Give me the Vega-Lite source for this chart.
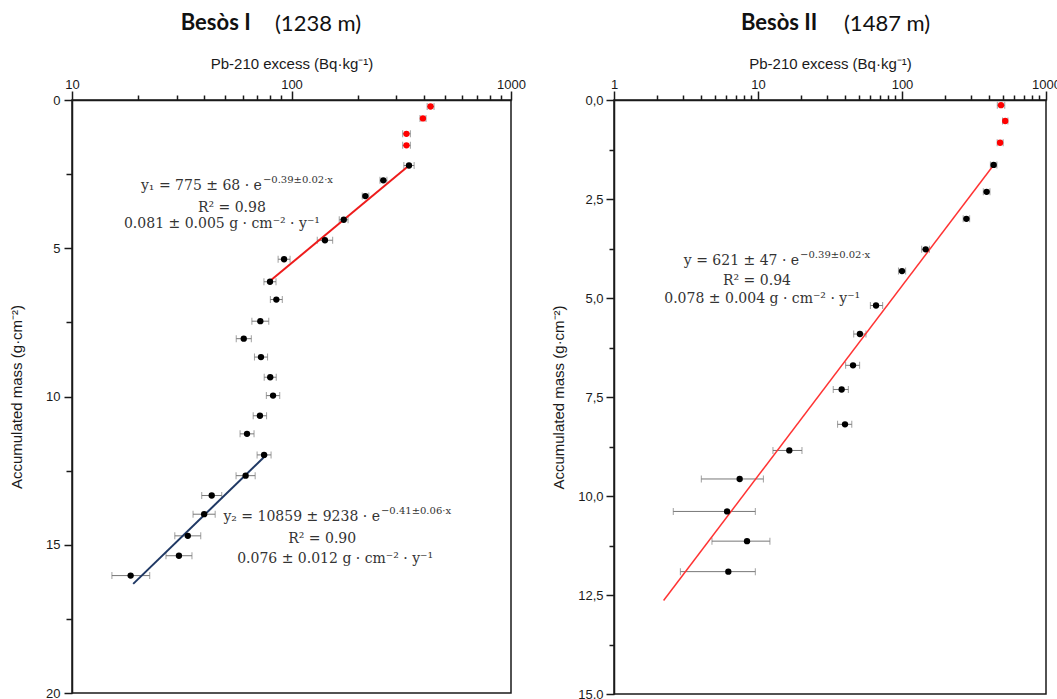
{
  "$schema": "https://vega.github.io/schema/vega-lite/v6.json",
  "padding": {"left": 8, "top": 12, "right": 0, "bottom": 0},
  "background": "white",
  "spacing": 23,
  "resolve": {"scale": {"x": "independent", "y": "independent"}, "axis": {"x": "independent", "y": "independent"}},
  "config": {
    "view": {"stroke": "#1a1a1a", "strokeWidth": 1.5},
    "axis": {"grid": false, "domainColor": "#1a1a1a", "domainWidth": 1.5, "tickColor": "#1a1a1a", "tickWidth": 1.5, "labelFont": "Liberation Sans", "labelFontSize": 13, "labelColor": "#1a1a1a", "titleFont": "Liberation Sans", "titleFontSize": 15, "titleFontWeight": "normal", "titleColor": "#1a1a1a"},
    "title": {"font": "Lato", "fontSize": 22, "fontWeight": "bold", "color": "#111111", "anchor": "start", "offset": 20}
  },
  "datasets": {
    "leftPts": [
      {"v": 430, "lo": 415, "hi": 446, "m": 0.22, "c": "surf"},
      {"v": 397, "lo": 385, "hi": 410, "m": 0.62, "c": "surf"},
      {"v": 334, "lo": 321, "hi": 348, "m": 1.14, "c": "surf"},
      {"v": 334, "lo": 321, "hi": 348, "m": 1.53, "c": "surf"},
      {"v": 343, "lo": 325, "hi": 362, "m": 2.21, "c": "deep"},
      {"v": 262, "lo": 253, "hi": 272, "m": 2.71, "c": "deep"},
      {"v": 217, "lo": 210, "hi": 225, "m": 3.24, "c": "deep"},
      {"v": 173, "lo": 165, "hi": 181, "m": 4.04, "c": "deep"},
      {"v": 142, "lo": 131, "hi": 154, "m": 4.73, "c": "deep"},
      {"v": 92.5, "lo": 86.9, "hi": 98.5, "m": 5.37, "c": "deep"},
      {"v": 79.8, "lo": 74.9, "hi": 85.0, "m": 6.13, "c": "deep"},
      {"v": 85.3, "lo": 80.1, "hi": 90.8, "m": 6.73, "c": "deep"},
      {"v": 72.1, "lo": 66.0, "hi": 78.8, "m": 7.46, "c": "deep"},
      {"v": 60.6, "lo": 56.0, "hi": 65.6, "m": 8.05, "c": "deep"},
      {"v": 72.6, "lo": 67.8, "hi": 77.8, "m": 8.67, "c": "deep"},
      {"v": 80.0, "lo": 75.1, "hi": 85.2, "m": 9.35, "c": "deep"},
      {"v": 82.4, "lo": 76.8, "hi": 88.4, "m": 9.97, "c": "deep"},
      {"v": 71.8, "lo": 66.9, "hi": 77.0, "m": 10.65, "c": "deep"},
      {"v": 62.7, "lo": 58.3, "hi": 67.5, "m": 11.26, "c": "deep"},
      {"v": 75.0, "lo": 69.7, "hi": 80.7, "m": 11.97, "c": "deep"},
      {"v": 61.8, "lo": 55.9, "hi": 68.3, "m": 12.67, "c": "deep"},
      {"v": 43.3, "lo": 39.0, "hi": 48.1, "m": 13.34, "c": "deep"},
      {"v": 40.0, "lo": 35.6, "hi": 44.9, "m": 13.97, "c": "deep"},
      {"v": 33.7, "lo": 29.4, "hi": 38.6, "m": 14.70, "c": "deep"},
      {"v": 30.7, "lo": 26.8, "hi": 35.2, "m": 15.37, "c": "deep"},
      {"v": 18.5, "lo": 15.2, "hi": 22.6, "m": 16.04, "c": "deep"}
    ],
    "leftLines": [
      {"v": 343, "m": 2.21, "c": "fit1"},
      {"v": 78.5, "m": 6.15, "c": "fit1"},
      {"v": 77.3, "m": 11.95, "c": "fit2"},
      {"v": 19.0, "m": 16.32, "c": "fit2"}
    ],
    "leftText": [
      {"txt": "y₁ = 775 ± 68 · e", "v": 73.3, "m": 2.9, "kind": "base"},
      {"txt": "−0.39±0.02·x", "v": 73.3, "m": 2.9, "kind": "sup"},
      {"txt": "R² = 0.98", "v": 53.5, "m": 3.65, "kind": "line"},
      {"txt": "0.081 ± 0.005 g · cm⁻² · y⁻¹", "v": 48.2, "m": 4.18, "kind": "line"},
      {"txt": "y₂ = 10859 ± 9238 · e", "v": 253, "m": 14.05, "kind": "base"},
      {"txt": "−0.41±0.06·x", "v": 253, "m": 14.05, "kind": "sup"},
      {"txt": "R² = 0.90", "v": 138, "m": 14.8, "kind": "line"},
      {"txt": "0.076 ± 0.012 g · cm⁻² · y⁻¹", "v": 158, "m": 15.47, "kind": "line"}
    ],
    "rightPts": [
      {"v": 487, "lo": 459, "hi": 517, "m": 0.13, "c": "surf"},
      {"v": 521, "lo": 499, "hi": 544, "m": 0.53, "c": "surf"},
      {"v": 480, "lo": 458, "hi": 504, "m": 1.08, "c": "surf"},
      {"v": 433, "lo": 411, "hi": 456, "m": 1.64, "c": "deep"},
      {"v": 387, "lo": 367, "hi": 408, "m": 2.32, "c": "deep"},
      {"v": 280, "lo": 266, "hi": 295, "m": 3.0, "c": "deep"},
      {"v": 146, "lo": 137, "hi": 155, "m": 3.77, "c": "deep"},
      {"v": 100, "lo": 94.5, "hi": 106, "m": 4.32, "c": "deep"},
      {"v": 66, "lo": 60.3, "hi": 73.4, "m": 5.19, "c": "deep"},
      {"v": 51, "lo": 46.2, "hi": 56.2, "m": 5.91, "c": "deep"},
      {"v": 45.7, "lo": 40.6, "hi": 50.8, "m": 6.70, "c": "deep"},
      {"v": 38.1, "lo": 33.3, "hi": 42.4, "m": 7.31, "c": "deep"},
      {"v": 40.2, "lo": 35.7, "hi": 44.8, "m": 8.19, "c": "deep"},
      {"v": 16.5, "lo": 12.7, "hi": 20.2, "m": 8.85, "c": "deep"},
      {"v": 7.46, "lo": 4.04, "hi": 10.9, "m": 9.57, "c": "deep"},
      {"v": 6.1, "lo": 2.58, "hi": 9.58, "m": 10.39, "c": "deep"},
      {"v": 8.39, "lo": 4.79, "hi": 12.1, "m": 11.14, "c": "deep"},
      {"v": 6.22, "lo": 2.89, "hi": 9.58, "m": 11.91, "c": "deep"}
    ],
    "rightLines": [
      {"v": 433, "m": 1.64, "c": "fit3"},
      {"v": 2.21, "m": 12.64, "c": "fit3"}
    ],
    "rightText": [
      {"txt": "y = 621 ± 47 · e", "v": 19.3, "m": 4.06, "kind": "base"},
      {"txt": "−0.39±0.02·x", "v": 19.3, "m": 4.06, "kind": "sup"},
      {"txt": "R² = 0.94", "v": 9.84, "m": 4.57, "kind": "line"},
      {"txt": "0.078 ± 0.004 g · cm⁻² · y⁻¹", "v": 10.7, "m": 5.02, "kind": "line"}
    ]
  },
  "hconcat": [
    {
      "title": {"text": "Besòs I", "frame": "bounds", "dx": 172, "offset": -23},
      "vconcat": [
        {
          "width": 439,
          "height": 593,
          "title": {"text": "(1238 m)", "fontWeight": "normal", "frame": "group", "dx": 203},
          "layer": [
            {
              "data": {"name": "leftPts"},
              "mark": {"type": "errorbar", "ticks": {"size": 7}, "color": "#777777", "thickness": 1},
              "encoding": {
                "x": {"field": "lo", "type": "quantitative", "scale": {"type": "log", "domain": [10, 1000], "nice": false},
                  "axis": {"orient": "top", "title": "Pb-210 excess (Bq·kg⁻¹)", "values": [10,20,30,40,50,60,70,80,90,100,200,300,400,500,600,700,800,900,1000],
                    "labelExpr": "indexof([10,100,1000], datum.value) >= 0 ? format(datum.value, 'd') : ''",
                    "tickSize": {"condition": {"test": "indexof([10,100,1000], datum.value) >= 0", "value": 9}, "value": 5},
                    "labelPadding": 0, "titlePadding": 7, "labelFlush": false}},
                "x2": {"field": "hi"},
                "y": {"field": "m", "type": "quantitative", "scale": {"domain": [0, 20], "reverse": true, "nice": false, "zero": false},
                  "axis": {"title": "Accumulated mass (g·cm⁻²)", "values": [0,2.5,5,7.5,10,12.5,15,17.5,20],
                    "labelExpr": "datum.value % 5 == 0 ? datum.label : ''",
                    "tickSize": {"condition": {"test": "datum.value % 5 == 0", "value": 8}, "value": 6},
                    "labelPadding": 4, "titlePadding": 21}}
              }
            },
            {
              "data": {"name": "leftLines"},
              "mark": {"type": "line", "strokeWidth": 2},
              "encoding": {
                "x": {"field": "v", "type": "quantitative", "scale": {"type": "log", "domain": [10, 1000], "nice": false}},
                "y": {"field": "m", "type": "quantitative", "scale": {"domain": [0, 20], "reverse": true, "nice": false, "zero": false}},
                "color": {"field": "c", "type": "nominal", "scale": {"domain": ["surf","deep","fit1","fit2","fit3"], "range": ["#ff0000","#000000","#ee1c1c","#1f3864","#ff3333"]}, "legend": null}
              }
            },
            {
              "data": {"name": "leftPts"},
              "mark": {"type": "point", "filled": true, "size": 40, "opacity": 1},
              "encoding": {
                "x": {"field": "v", "type": "quantitative", "scale": {"type": "log", "domain": [10, 1000], "nice": false}},
                "y": {"field": "m", "type": "quantitative", "scale": {"domain": [0, 20], "reverse": true, "nice": false, "zero": false}},
                "color": {"field": "c", "type": "nominal", "scale": {"domain": ["surf","deep","fit1","fit2","fit3"], "range": ["#ff0000","#000000","#ee1c1c","#1f3864","#ff3333"]}, "legend": null}
              }
            },
            {
              "data": {"name": "leftText"},
              "transform": [{"filter": "datum.kind == 'base'"}],
              "mark": {"type": "text", "align": "right", "baseline": "middle", "font": "DejaVu Serif", "fontSize": 14, "color": "#333333"},
              "encoding": {
                "x": {"field": "v", "type": "quantitative", "scale": {"type": "log", "domain": [10, 1000], "nice": false}},
                "y": {"field": "m", "type": "quantitative", "scale": {"domain": [0, 20], "reverse": true, "nice": false, "zero": false}},
                "text": {"field": "txt"}
              }
            },
            {
              "data": {"name": "leftText"},
              "transform": [{"filter": "datum.kind == 'sup'"}],
              "mark": {"type": "text", "align": "left", "baseline": "middle", "dx": 1, "dy": -6, "font": "DejaVu Serif", "fontSize": 10, "color": "#333333"},
              "encoding": {
                "x": {"field": "v", "type": "quantitative", "scale": {"type": "log", "domain": [10, 1000], "nice": false}},
                "y": {"field": "m", "type": "quantitative", "scale": {"domain": [0, 20], "reverse": true, "nice": false, "zero": false}},
                "text": {"field": "txt"}
              }
            },
            {
              "data": {"name": "leftText"},
              "transform": [{"filter": "datum.kind == 'line'"}],
              "mark": {"type": "text", "align": "center", "baseline": "middle", "font": "DejaVu Serif", "fontSize": 14, "color": "#333333"},
              "encoding": {
                "x": {"field": "v", "type": "quantitative", "scale": {"type": "log", "domain": [10, 1000], "nice": false}},
                "y": {"field": "m", "type": "quantitative", "scale": {"domain": [0, 20], "reverse": true, "nice": false, "zero": false}},
                "text": {"field": "txt"}
              }
            }
          ]
        }
      ]
    },
    {
      "title": {"text": "Besòs II", "frame": "bounds", "dx": 190, "offset": -23},
      "vconcat": [
        {
          "width": 432,
          "height": 594,
          "title": {"text": "(1487 m)", "fontWeight": "normal", "frame": "group", "dx": 230},
          "layer": [
            {
              "data": {"name": "rightPts"},
              "mark": {"type": "errorbar", "ticks": {"size": 7}, "color": "#777777", "thickness": 1},
              "encoding": {
                "x": {"field": "lo", "type": "quantitative", "scale": {"type": "log", "domain": [1, 1000], "nice": false},
                  "axis": {"orient": "top", "title": "Pb-210 excess (Bq·kg⁻¹)", "values": [1,2,3,4,5,6,7,8,9,10,20,30,40,50,60,70,80,90,100,200,300,400,500,600,700,800,900,1000],
                    "labelExpr": "indexof([1,10,100,1000], datum.value) >= 0 ? format(datum.value, 'd') : ''",
                    "tickSize": {"condition": {"test": "indexof([1,10,100,1000], datum.value) >= 0", "value": 9}, "value": 5},
                    "labelPadding": 0, "titlePadding": 7, "labelFlush": false}},
                "x2": {"field": "hi"},
                "y": {"field": "m", "type": "quantitative", "scale": {"domain": [0, 15], "reverse": true, "nice": false, "zero": false},
                  "axis": {"title": "Accumulated mass (g·cm⁻²)", "values": [0,1.25,2.5,3.75,5,6.25,7.5,8.75,10,11.25,12.5,13.75,15],
                    "labelExpr": "datum.value % 2.5 == 0 ? replace(format(datum.value, '.1f'), '.', ',') : ''",
                    "tickSize": {"condition": {"test": "datum.value % 2.5 == 0", "value": 8}, "value": 5},
                    "labelPadding": 3, "titlePadding": 11}}
              }
            },
            {
              "data": {"name": "rightLines"},
              "mark": {"type": "line", "strokeWidth": 1.5},
              "encoding": {
                "x": {"field": "v", "type": "quantitative", "scale": {"type": "log", "domain": [1, 1000], "nice": false}},
                "y": {"field": "m", "type": "quantitative", "scale": {"domain": [0, 15], "reverse": true, "nice": false, "zero": false}},
                "color": {"field": "c", "type": "nominal", "scale": {"domain": ["surf","deep","fit1","fit2","fit3"], "range": ["#ff0000","#000000","#ee1c1c","#1f3864","#ff3333"]}, "legend": null}
              }
            },
            {
              "data": {"name": "rightPts"},
              "mark": {"type": "point", "filled": true, "size": 40, "opacity": 1},
              "encoding": {
                "x": {"field": "v", "type": "quantitative", "scale": {"type": "log", "domain": [1, 1000], "nice": false}},
                "y": {"field": "m", "type": "quantitative", "scale": {"domain": [0, 15], "reverse": true, "nice": false, "zero": false}},
                "color": {"field": "c", "type": "nominal", "scale": {"domain": ["surf","deep","fit1","fit2","fit3"], "range": ["#ff0000","#000000","#ee1c1c","#1f3864","#ff3333"]}, "legend": null}
              }
            },
            {
              "data": {"name": "rightText"},
              "transform": [{"filter": "datum.kind == 'base'"}],
              "mark": {"type": "text", "align": "right", "baseline": "middle", "font": "DejaVu Serif", "fontSize": 14, "color": "#333333"},
              "encoding": {
                "x": {"field": "v", "type": "quantitative", "scale": {"type": "log", "domain": [1, 1000], "nice": false}},
                "y": {"field": "m", "type": "quantitative", "scale": {"domain": [0, 15], "reverse": true, "nice": false, "zero": false}},
                "text": {"field": "txt"}
              }
            },
            {
              "data": {"name": "rightText"},
              "transform": [{"filter": "datum.kind == 'sup'"}],
              "mark": {"type": "text", "align": "left", "baseline": "middle", "dx": 1, "dy": -6, "font": "DejaVu Serif", "fontSize": 10, "color": "#333333"},
              "encoding": {
                "x": {"field": "v", "type": "quantitative", "scale": {"type": "log", "domain": [1, 1000], "nice": false}},
                "y": {"field": "m", "type": "quantitative", "scale": {"domain": [0, 15], "reverse": true, "nice": false, "zero": false}},
                "text": {"field": "txt"}
              }
            },
            {
              "data": {"name": "rightText"},
              "transform": [{"filter": "datum.kind == 'line'"}],
              "mark": {"type": "text", "align": "center", "baseline": "middle", "font": "DejaVu Serif", "fontSize": 14, "color": "#333333"},
              "encoding": {
                "x": {"field": "v", "type": "quantitative", "scale": {"type": "log", "domain": [1, 1000], "nice": false}},
                "y": {"field": "m", "type": "quantitative", "scale": {"domain": [0, 15], "reverse": true, "nice": false, "zero": false}},
                "text": {"field": "txt"}
              }
            }
          ]
        }
      ]
    }
  ]
}
